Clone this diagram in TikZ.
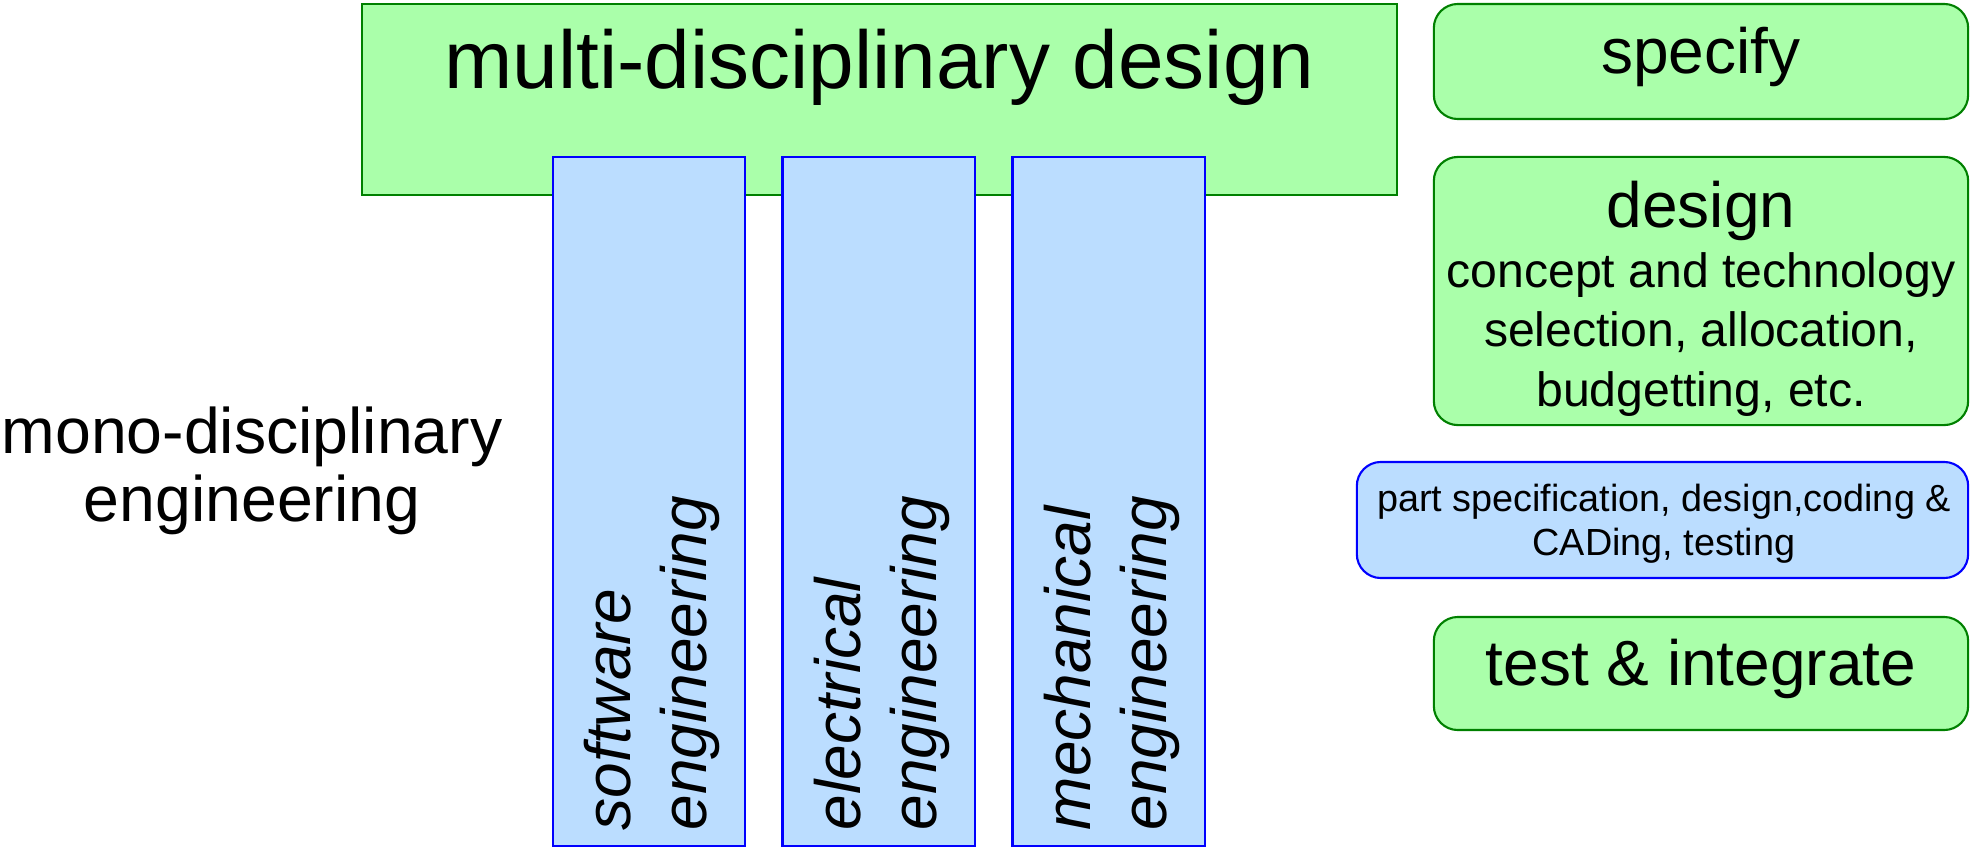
\documentclass[tikz,border=0pt]{standalone}
\usepackage{fontspec}
\setmainfont{Liberation Sans}
\usetikzlibrary{positioning}
\definecolor{fillGreen}{HTML}{AAFFAA}
\definecolor{drawGreen}{HTML}{008000}
\definecolor{fillBlue}{HTML}{BBDDFF}
\definecolor{drawBlue}{HTML}{0000FF}
\tikzstyle{greenBox}=[draw = drawGreen, fill = fillGreen, line width = 0.6pt, inner sep = 0pt]
\tikzstyle{blueBox}=[draw = drawBlue, fill = fillBlue, line width = 0.6pt, inner sep = 0pt]
\tikzstyle{roundBox}=[rounded corners = 0.24cm]

\begin{document}
\begin{tikzpicture}[x = 0.01cm, y = -0.01cm]
\tikzstyle{headText}=[anchor = base, inner sep = 0pt, font = \fontsize{18.2}{21}\selectfont]
\tikzstyle{columnText}=[rotate = 90, anchor = west, align = left, inner sep = 0pt, font = \itshape\fontsize{18.2}{21.6}\selectfont]
\useasboundingbox (0,0) rectangle (1971,848);
% multi-disciplinary block and the three columns
\node[greenBox, minimum width = 10.35cm, minimum height = 1.91cm] (multi) at (879.5,99.5) {};
\node[anchor = base, inner sep = 0pt, font = \fontsize{23.3}{28}\selectfont] (multiTxt) at (879.5,88) {multi-disciplinary design};
\node[blueBox, minimum width = 1.92cm, minimum height = 6.89cm] (soft) at (649,501.5) {};
\node[blueBox, minimum width = 1.92cm, minimum height = 6.89cm] (elec) at (878.5,501.5) {};
\node[blueBox, minimum width = 1.92cm, minimum height = 6.89cm] (mech) at (1108.5,501.5) {};
\node[columnText] (softTxt) at (652,831) {software\\engineering};
\node[columnText] (elecTxt) at (881.5,831) {electrical\\engineering};
\node[columnText] (mechTxt) at (1111.5,831) {mechanical\\engineering};
% base of a two-line node is the base of its last line
\node[anchor = base, align = center, inner sep = 0pt, font = \fontsize{18.3}{19.3}\selectfont] (monoTxt) at (252,521) {mono-disciplinary\\engineering};
% steps on the right
\node[greenBox, roundBox, minimum width = 5.34cm, minimum height = 1.15cm] (specify) at (1701,61.5) {};
\node[headText] (specifyTxt) at (1701,73) {specify};
\node[greenBox, roundBox, minimum width = 5.34cm, minimum height = 2.68cm] (design) at (1701,291) {};
\node[headText] (designTxt) at (1701,227) {design};
\node[anchor = base, align = center, inner sep = 0pt, font = \fontsize{13.7}{16.8}\selectfont] (designSub) at (1701,406) {concept and technology\\selection, allocation,\\budgetting, etc.};
\node[blueBox, roundBox, minimum width = 6.11cm, minimum height = 1.16cm] (part) at (1662.5,520) {};
\node[anchor = base, align = center, inner sep = 0pt, font = \fontsize{10.75}{12.5}\selectfont] (partTxt) at (1664,555) {part specification, design,coding \&\\CADing, testing};
\node[greenBox, roundBox, minimum width = 5.34cm, minimum height = 1.13cm] (test) at (1701,673.5) {};
\node[headText] (testTxt) at (1701,685) {test \& integrate};
\end{tikzpicture}
\end{document}
